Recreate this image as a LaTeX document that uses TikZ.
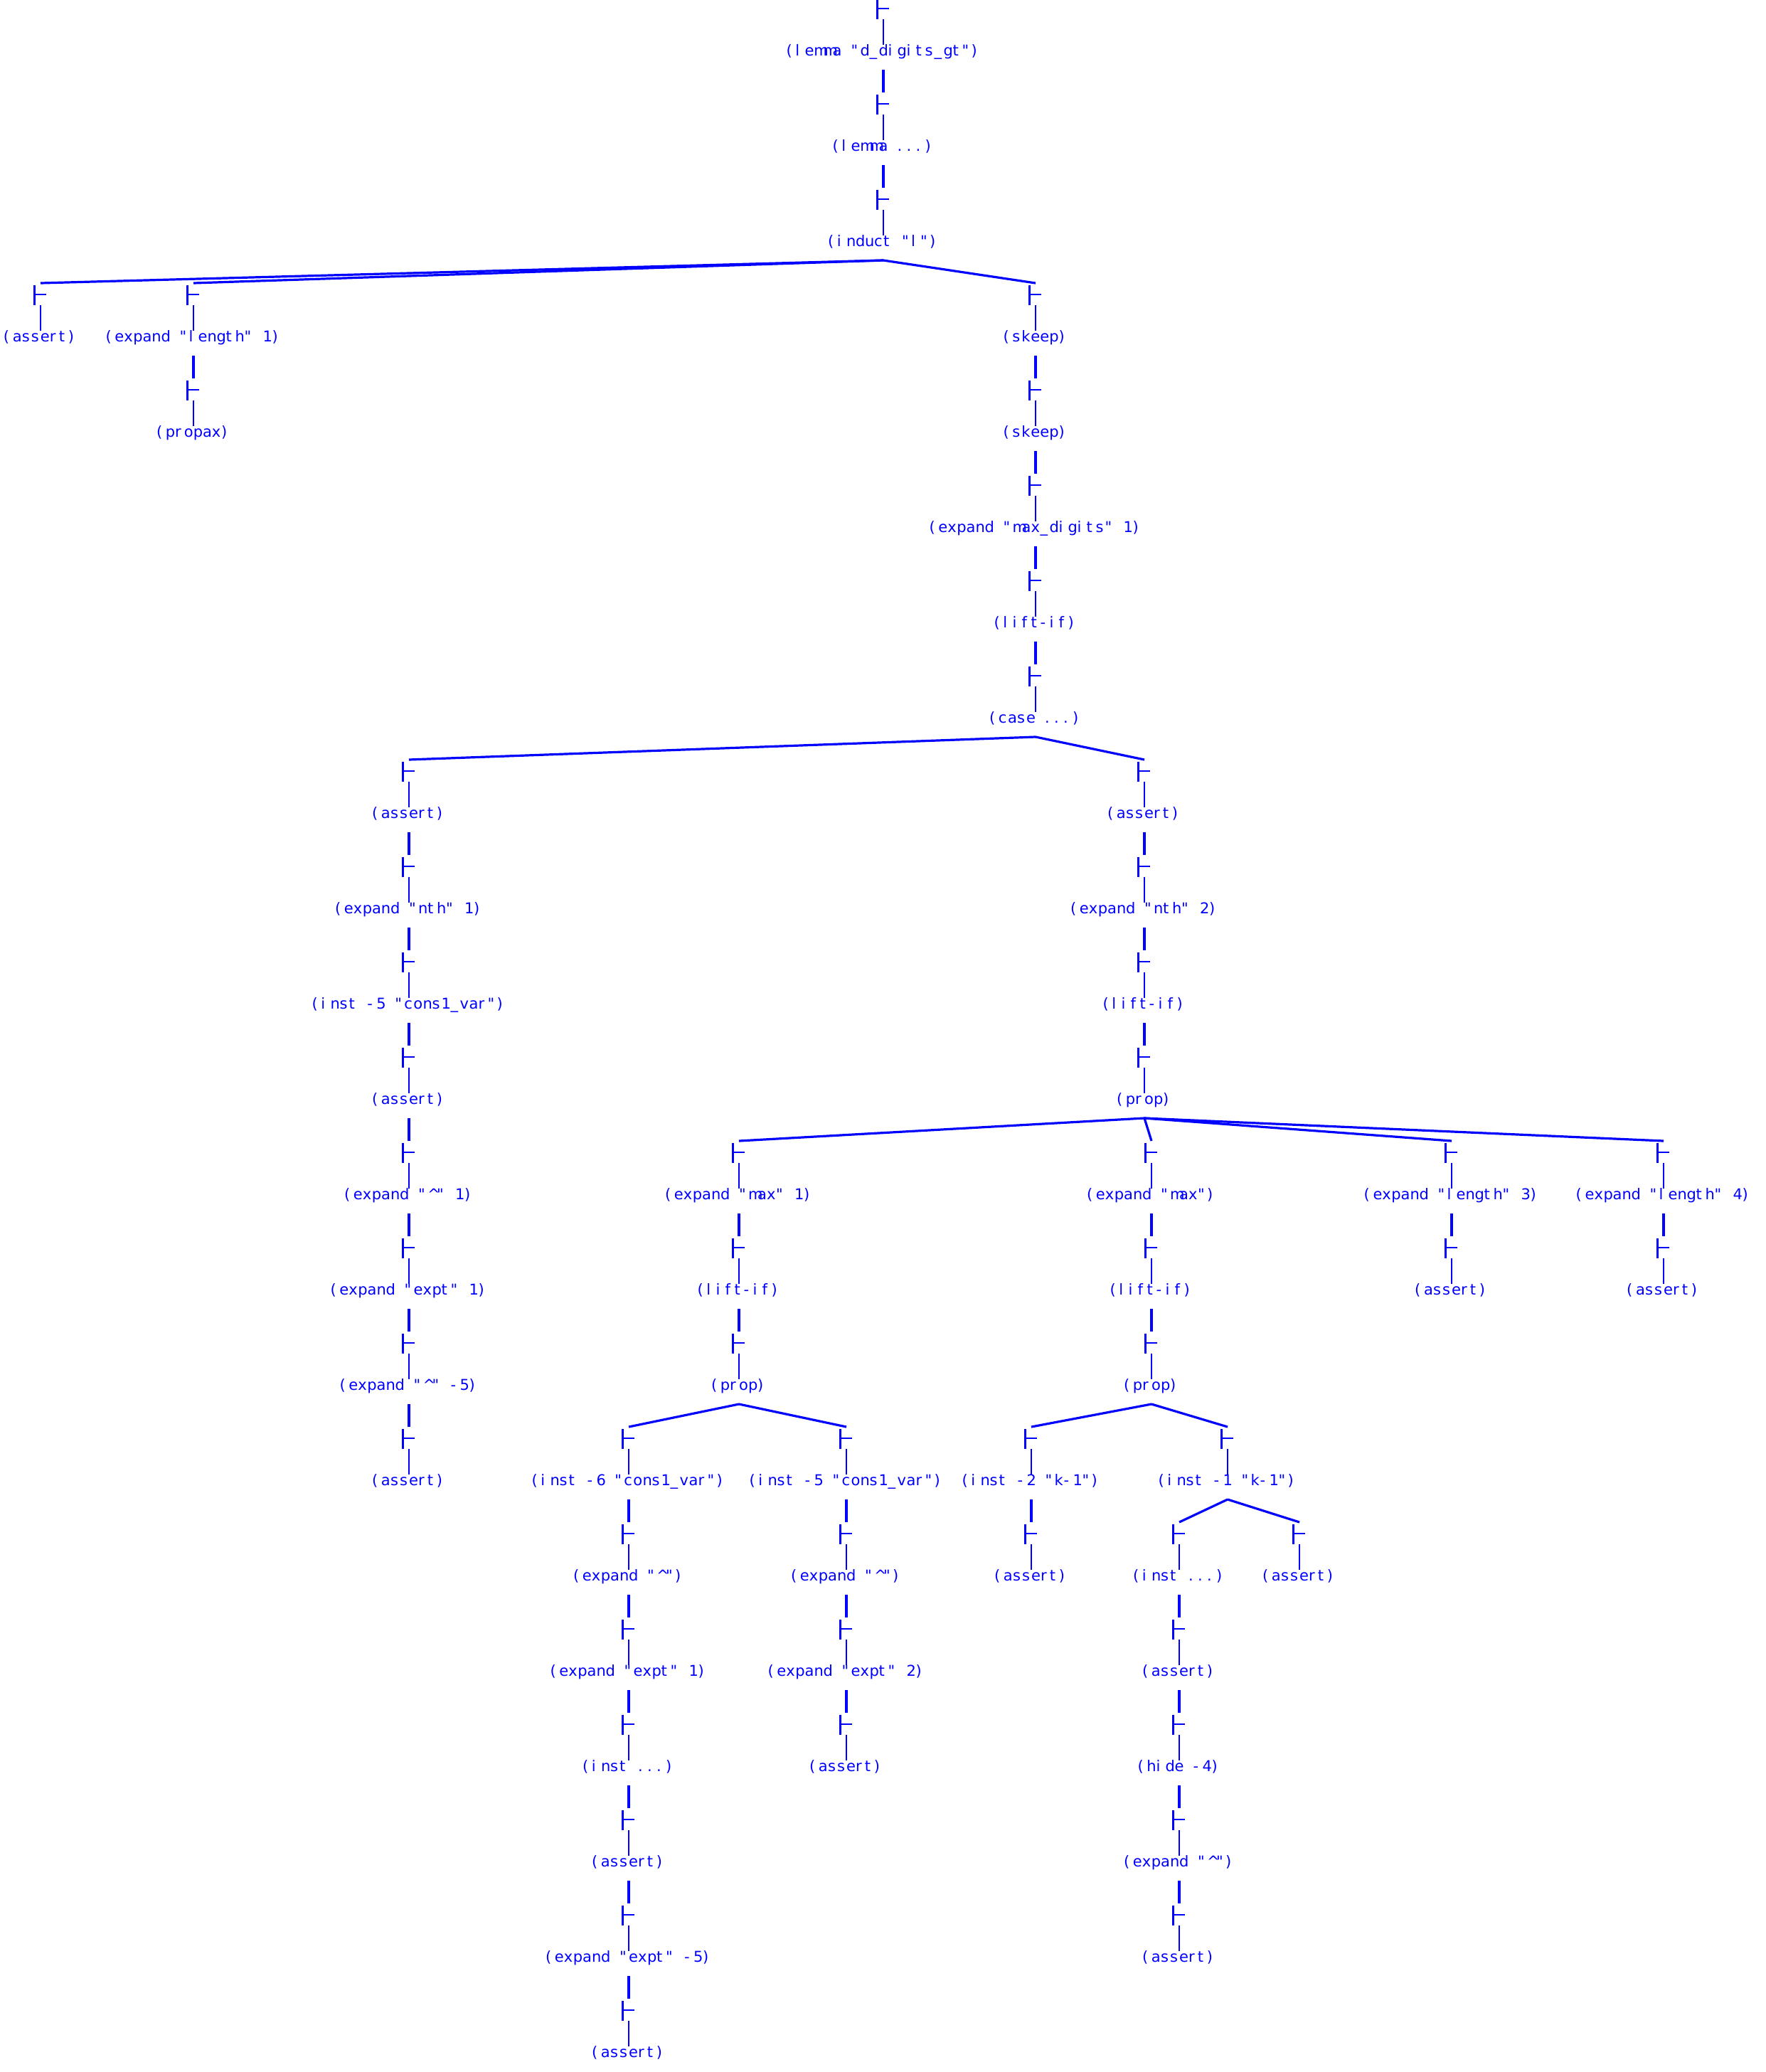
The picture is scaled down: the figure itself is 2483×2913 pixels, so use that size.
\documentclass[tikz,border=0pt]{standalone}
\usepackage{fontspec}
\setmainfont{DejaVu Sans}[Ligatures=TeXOff]
\ExplSyntaxOn
\NewDocumentCommand\cells{m}{\str_map_inline:nn{#1}{\makebox[13pt][l]{##1}}}
\ExplSyntaxOff
\tikzset{
  edgeline/.style={draw=blue,line width=3.2pt},
  tbar/.style={draw=blue,line width=2.7pt},
  stem/.style={draw=blue,line width=1.1pt},
  lbl/.style={text=blue,inner sep=0pt,anchor=base,font=\fontsize{21}{25}\selectfont},
}
\newcommand\prfnode[4]{%
  \coordinate (#1) at (#2,{-12-134*#3});
  \coordinate (#1-in) at ([yshift=16pt]#1);
  \coordinate (#1-out) at ([yshift=-86pt]#1);
  \draw[tbar] ([shift={(-8.7,13.3)}]#1) -- ++(0,-28);
  \draw[tbar] ([shift={(-10,0)}]#1) -- ++(17.6,0);
  \draw[stem] ([yshift=-15pt]#1) -- ++(0,-35.5);
  \node[lbl] (#1-l) at ([yshift=-66.5pt]#1) {\cells{#4}};
}
\begin{document}
\begin{tikzpicture}[x=1pt,y=1pt]
\useasboundingbox (0,0) rectangle (2483,-2913);
% root chain
\prfnode{r0}{1242}{0}{(lemma "d_digits_gt")}
\prfnode{r1}{1242}{1}{(lemma ...)}
\prfnode{r2}{1242}{2}{(induct "l")}
% row 3
\prfnode{a3}{57}{3}{(assert)}
\prfnode{b3}{272}{3}{(expand "length" 1)}
\prfnode{b4}{272}{4}{(propax)}
\prfnode{i3}{1456}{3}{(skeep)}
\prfnode{i4}{1456}{4}{(skeep)}
\prfnode{i5}{1456}{5}{(expand "max_digits" 1)}
\prfnode{i6}{1456}{6}{(lift-if)}
\prfnode{i7}{1456}{7}{(case ...)}
% left case branch
\prfnode{c8}{575}{8}{(assert)}
\prfnode{c9}{575}{9}{(expand "nth" 1)}
\prfnode{c10}{575}{10}{(inst -5 "cons1_var")}
\prfnode{c11}{575}{11}{(assert)}
\prfnode{c12}{575}{12}{(expand "^" 1)}
\prfnode{c13}{575}{13}{(expand "expt" 1)}
\prfnode{c14}{575}{14}{(expand "^" -5)}
\prfnode{c15}{575}{15}{(assert)}
% right case branch
\prfnode{j8}{1609}{8}{(assert)}
\prfnode{j9}{1609}{9}{(expand "nth" 2)}
\prfnode{j10}{1609}{10}{(lift-if)}
\prfnode{j11}{1609}{11}{(prop)}
% prop children
\prfnode{e12}{1039}{12}{(expand "max" 1)}
\prfnode{e13}{1039}{13}{(lift-if)}
\prfnode{e14}{1039}{14}{(prop)}
\prfnode{k12}{1619}{12}{(expand "max")}
\prfnode{k13}{1619}{13}{(lift-if)}
\prfnode{k14}{1619}{14}{(prop)}
\prfnode{o12}{2041}{12}{(expand "length" 3)}
\prfnode{o13}{2041}{13}{(assert)}
\prfnode{p12}{2339}{12}{(expand "length" 4)}
\prfnode{p13}{2339}{13}{(assert)}
% e14 children
\prfnode{d15}{884}{15}{(inst -6 "cons1_var")}
\prfnode{d16}{884}{16}{(expand "^")}
\prfnode{d17}{884}{17}{(expand "expt" 1)}
\prfnode{d18}{884}{18}{(inst ...)}
\prfnode{d19}{884}{19}{(assert)}
\prfnode{d20}{884}{20}{(expand "expt" -5)}
\prfnode{d21}{884}{21}{(assert)}
\prfnode{f15}{1190}{15}{(inst -5 "cons1_var")}
\prfnode{f16}{1190}{16}{(expand "^")}
\prfnode{f17}{1190}{17}{(expand "expt" 2)}
\prfnode{f18}{1190}{18}{(assert)}
% k14 children
\prfnode{h15}{1450}{15}{(inst -2 "k-1")}
\prfnode{h16}{1450}{16}{(assert)}
\prfnode{m15}{1726}{15}{(inst -1 "k-1")}
\prfnode{l16}{1658}{16}{(inst ...)}
\prfnode{l17}{1658}{17}{(assert)}
\prfnode{l18}{1658}{18}{(hide -4)}
\prfnode{l19}{1658}{19}{(expand "^")}
\prfnode{l20}{1658}{20}{(assert)}
\prfnode{n16}{1827}{16}{(assert)}
% connectors
\foreach \a/\b in {r0/r1,r1/r2,r2/a3,r2/b3,r2/i3,b3/b4,i3/i4,i4/i5,i5/i6,i6/i7,
  i7/c8,i7/j8,c8/c9,c9/c10,c10/c11,c11/c12,c12/c13,c13/c14,c14/c15,
  j8/j9,j9/j10,j10/j11,j11/e12,j11/k12,j11/o12,j11/p12,
  e12/e13,e13/e14,e14/d15,e14/f15,d15/d16,d16/d17,d17/d18,d18/d19,d19/d20,d20/d21,
  f15/f16,f16/f17,f17/f18,k12/k13,k13/k14,k14/h15,k14/m15,h15/h16,
  m15/l16,m15/n16,l16/l17,l17/l18,l18/l19,l19/l20,o12/o13,p12/p13}
  \draw[edgeline] (\a-out) -- (\b-in);
\end{tikzpicture}
\end{document}
